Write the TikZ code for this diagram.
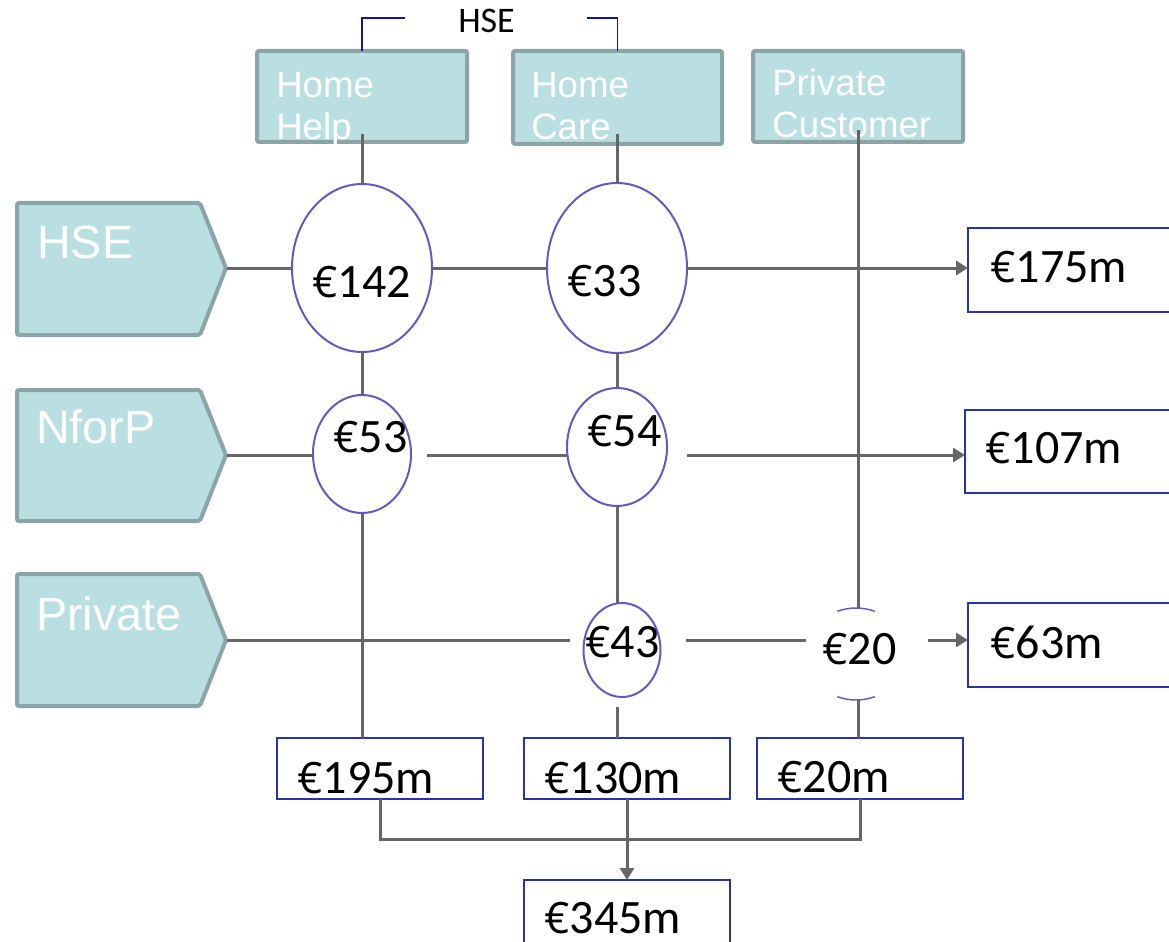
\documentclass[tikz,border=0pt]{standalone}
\usepackage{fontspec}
\setmainfont{Carlito}
\newfontfamily\arialf{Liberation Sans}
\newfontfamily\eurf{Open Sans}[Scale=0.9]
\newcommand{\eur}{{\eurf €}}
\usetikzlibrary{shapes.geometric,arrows.meta}
\definecolor{tealfill}{RGB}{186,223,226}
\definecolor{tealborder}{RGB}{139,165,167}
\definecolor{ellborder}{RGB}{104,88,190}
\definecolor{boxblue}{RGB}{40,52,160}
\definecolor{navy}{RGB}{20,20,140}
\definecolor{linegray}{RGB}{102,102,102}
\begin{document}
\begin{tikzpicture}[x=0.75pt,y=-0.75pt,
  tealbox/.style={draw=tealborder,fill=tealfill,line width=3pt,rounded corners=1.5pt,inner sep=0pt,outer sep=0pt},
  pent/.style={draw=tealborder,fill=tealfill,line width=3pt,rounded corners=1.5pt},
  tealtext/.style={text=white,font=\arialf\fontsize{27.5}{32}\selectfont,inner sep=0pt,anchor=base west,align=left},
  lefttext/.style={text=white,font=\arialf\fontsize{35}{42}\selectfont,inner sep=0pt,anchor=base west},
  oval/.style={ellipse,draw=ellborder,fill=white,line width=1.5pt,inner sep=0pt,outer sep=0pt},
  bluebox/.style={rectangle,draw=boxblue,fill=white,line width=1.1pt,inner sep=0pt,outer sep=0pt},
  euro/.style={font=\fontsize{36}{43}\selectfont,inner sep=0pt,anchor=base west,text=black},
  conn/.style={draw=linegray,line width=2.25pt},
  arr/.style={conn,-{Triangle[length=9pt,width=10.5pt]}},
  bracket/.style={draw=navy,line width=1.1pt}
]
\useasboundingbox (0,0) rectangle (1169,941);

% top teal boxes
\node[tealbox,minimum width=157.5pt,minimum height=68.25pt] (thh) at (362,96.5) {};
\node[tealbox,minimum width=156.75pt,minimum height=69.75pt] (thc) at (617.5,97.5) {};
\node[tealbox,minimum width=157.5pt,minimum height=68.25pt] (tpc) at (858,96.5) {};
\node[tealtext] (thhtext) at (276,140) {Home\\Help};
\node[tealtext] (thctext) at (531,140) {Home\\Care};
\node[tealtext] (tpctext) at (772,138) {Private\\Customer};

% HSE bracket
\node[font=\fontsize{27}{32}\selectfont,inner sep=0pt,anchor=base west] (hsetop) at (458,33) {HSE};
\coordinate (brl) at (405,18);
\coordinate (brr) at (587,18);
\draw[bracket] (brl) -- (brl -| thh.north) -- (thh.north);
\draw[bracket] (brr) -- (brr -| thc.north) -- (thc.north);

% left pentagons
\draw[pent] (17,203) -- (200,203) -- (226,268) -- (200,335) -- (17,335) -- cycle;
\coordinate (hsetip) at (227,268);
\draw[pent] (17,390) -- (200,390) -- (226,455) -- (200,521) -- (17,521) -- cycle;
\coordinate (nfptip) at (227,455);
\draw[pent] (17,574) -- (200,574) -- (226,640) -- (200,706) -- (17,706) -- cycle;
\coordinate (prvtip) at (227,640);
\node[lefttext] (hselbl) at (37,258) {HSE};
\node[lefttext] (nfplbl) at (36,443) {NforP};
\node[lefttext] (prvlbl) at (36,630) {Private};

% ellipses
\node[oval,minimum width=105pt,minimum height=126pt] (e142) at (362,268) {};
\node[oval,minimum width=105pt,minimum height=127.5pt] (e33) at (617,268) {};
\node[oval,minimum width=73.5pt,minimum height=88.5pt] (e53) at (362,454) {};
\node[oval,minimum width=75pt,minimum height=88.5pt] (e54) at (617,447) {};
\node[oval,minimum width=57.75pt,minimum height=70.5pt] (e43) at (622,650) {};
\node[ellipse,draw=white,fill=white,minimum width=75pt,minimum height=69pt,inner sep=0pt] (e20) at (856,654) {};
\draw[ellborder,line width=1.1pt] (e20.center) ++(68:37.5pt and 34.5pt) arc[start angle=68,end angle=112,x radius=37.5pt,y radius=34.5pt];
\draw[ellborder,line width=1.1pt] (e20.center) ++(248:37.5pt and 34.5pt) arc[start angle=248,end angle=292,x radius=37.5pt,y radius=34.5pt];

% blue boxes
\node[bluebox,minimum width=166.5pt,minimum height=63pt] (b175) at (1079,270) {};
\node[bluebox,minimum width=168.75pt,minimum height=62.25pt] (b107) at (1077.5,451.5) {};
\node[bluebox,minimum width=166.5pt,minimum height=63pt] (b63) at (1079,645) {};
\node[bluebox,minimum width=154.5pt,minimum height=45.75pt] (b195) at (380,768.5) {};
\node[bluebox,minimum width=154.5pt,minimum height=45.75pt] (b130) at (627,768.5) {};
\node[bluebox,minimum width=154.5pt,minimum height=45.75pt] (b20m) at (860,768.5) {};
\node[bluebox,minimum width=154.5pt,minimum height=82.5pt] (b345) at (627,935) {};

% connectors: columns
\coordinate (hhtap) at (362,134);
\coordinate (hctap) at (617,134);
\coordinate (pctap) at (858,130);
\draw[conn] (hhtap) -- (e142.north);
\draw[conn] (e142.south) -- (e53.north);
\draw[conn] (e53.south) -- (e53.south |- b195.north);
\draw[conn] (hctap) -- (e33.north);
\draw[conn] (e33.south) -- (e54.north);
\draw[conn] (e54.south) -- (e54.south |- e43.north);
\coordinate (c43below) at (617,707);
\draw[conn] (c43below) -- (c43below |- b130.north);
\coordinate (c20top) at (858,608);
\coordinate (c20bot) at (858,700);
\draw[conn] (pctap) -- (c20top);
\draw[conn] (c20bot) -- (c20bot |- b20m.north);

% connectors: rows
\draw[conn] (hsetip) -- (hsetip -| e142.west);
\draw[conn] (e142.east) -- (e33.west);
\draw[arr] (e33.east) -- (e33.east -| b175.west);
\draw[conn] (nfptip) -- (nfptip -| e53.west);
\coordinate (n1) at (427,455);
\coordinate (n2) at (687,455);
\draw[conn] (n1) -- (n1 -| e54.west);
\draw[arr] (n2) -- (n2 -| b107.west);
\coordinate (p1) at (570,640);
\coordinate (p2) at (686,640);
\coordinate (p3) at (806,640);
\coordinate (p4) at (928,640);
\draw[conn] (prvtip) -- (p1);
\draw[conn] (p2) -- (p3);
\draw[arr] (p4) -- (p4 -| b63.west);

% bottom totals
\draw[conn] (b195.south) -- ++(0,40) -| (b20m.south);
\draw[arr] (b130.south) -- (b345.north);

% euro texts
\node[euro] (t142) at (312,297) {\eur142};
\node[euro] (t33) at (567,296) {\eur33};
\node[euro] (t53) at (333,452) {\eur53};
\node[euro] (t54) at (587,446) {\eur54};
\node[euro] (t43) at (585,657) {\eur43};
\node[euro] (t20) at (822,664) {\eur20};
\node[euro] (t175) at (990,282) {\eur175m};
\node[euro] (t107) at (985,463) {\eur107m};
\node[euro] (t63) at (990,658) {\eur63m};
\node[euro] (t195) at (297,793) {\eur195m};
\node[euro] (t130) at (544,793) {\eur130m};
\node[euro] (t20m) at (777,792) {\eur20m};
\node[euro] (t345) at (544,933) {\eur345m};
\end{tikzpicture}
\end{document}
